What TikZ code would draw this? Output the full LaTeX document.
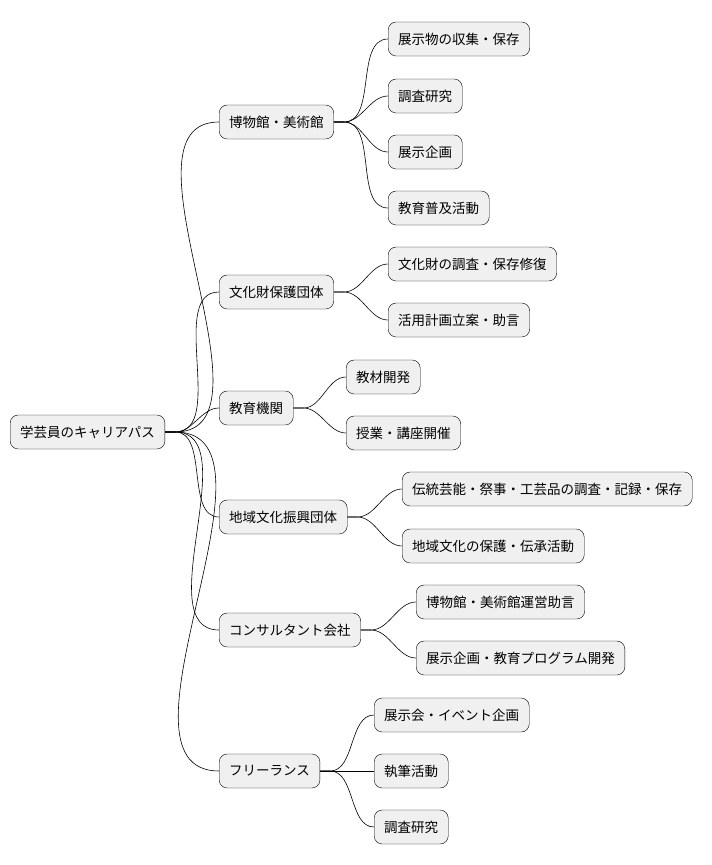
\documentclass[tikz,border=0pt]{standalone}
\usepackage{fontspec}
\setmainfont{Noto Sans CJK JP}
\begin{document}
\begin{tikzpicture}[x=1pt,y=-1pt,
  box/.style={draw=black,fill=black!6,rounded corners=8pt,minimum height=34pt,inner xsep=10pt,anchor=west,font=\fontsize{13.5}{16}\selectfont},
  conn/.style={draw=black,line width=0.6pt}]
\useasboundingbox (0,0) rectangle (712,865);
\node[box] (r) at (10,432) {学芸員のキャリアパス};
\node[box] (a) at (219,122) {博物館・美術館};
\node[box] (b) at (219,292) {文化財保護団体};
\node[box] (c) at (219,408) {教育機関};
\node[box] (d) at (219,517) {地域文化振興団体};
\node[box] (e) at (219,630) {コンサルタント会社};
\node[box] (f) at (219,771) {フリーランス};
\node[box] (a1) at (388,39) {展示物の収集・保存};
\node[box] (a2) at (388,96) {調査研究};
\node[box] (a3) at (388,152) {展示企画};
\node[box] (a4) at (388,208) {教育普及活動};
\node[box] (b1) at (388,264) {文化財の調査・保存修復};
\node[box] (b2) at (388,320) {活用計画立案・助言};
\node[box] (c1) at (346,377) {教材開発};
\node[box] (c2) at (346,433) {授業・講座開催};
\node[box] (d1) at (402,489) {伝統芸能・祭事・工芸品の調査・記録・保存};
\node[box] (d2) at (402,546) {地域文化の保護・伝承活動};
\node[box] (e1) at (416,602) {博物館・美術館運営助言};
\node[box] (e2) at (416,658) {展示企画・教育プログラム開発};
\node[box] (f1) at (374,715) {展示会・イベント企画};
\node[box] (f2) at (374,771) {執筆活動};
\node[box] (f3) at (374,827) {調査研究};
\foreach \p/\c in {r/a,r/b,r/c,r/d,r/e,r/f,a/a1,a/a2,a/a3,a/a4,b/b1,b/b2,c/c1,c/c2,d/d1,d/d2,e/e1,e/e2,f/f1,f/f2,f/f3}
  \draw[conn] (\p.east) -- ++(10,0) to[out=0,in=180,looseness=0.9] (\c.west);
\end{tikzpicture}
\end{document}
